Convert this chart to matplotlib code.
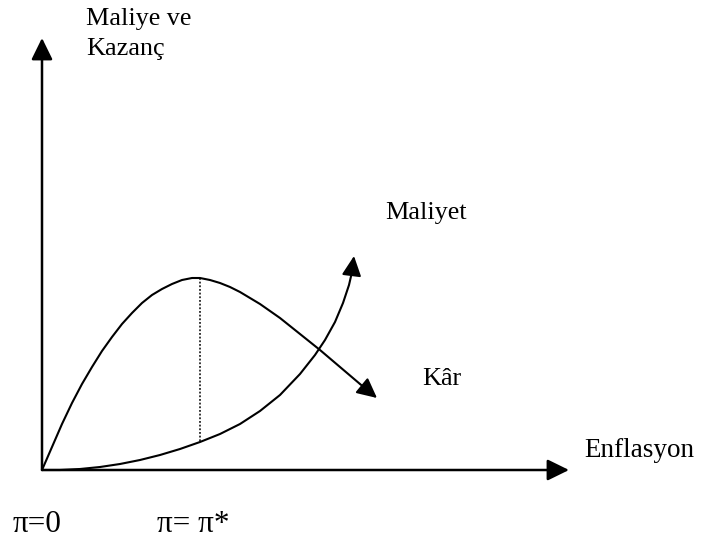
import matplotlib.pyplot as plt

# profit curve (Kâr): inflation vs value
kar_x = [0, 10, 20, 30, 40, 50, 60, 70, 80, 90, 100, 110, 120, 130, 140, 150, 158,
         168, 178, 188, 198, 208, 218, 228, 238, 248, 258, 268, 278, 298, 318, 335]
kar_y = [0, 23, 46, 67, 86, 103, 119, 133, 146, 157, 167, 175, 181, 186, 190, 192, 192,
         190, 187, 183, 178, 172, 166, 159, 152, 144, 136, 128, 120, 103, 86, 72]

# cost curve (Maliyet)
maliyet_x = [0, 18, 38, 58, 78, 98, 118, 138, 158, 178, 198, 218, 238, 258,
             273, 283, 293, 301, 307, 310, 312]
maliyet_y = [0, 0, 1, 3, 6, 10, 15, 21, 28, 36, 46, 59, 75, 96,
             115, 130, 148, 167, 185, 198, 214]

# optimum inflation
pi_star = 158
x_axis_len = 527
y_axis_len = 432

FONT = "Liberation Serif"


def arrow(ax, start, end, lw, scale):
    ax.annotate("", xy=end, xytext=start,
                arrowprops=dict(arrowstyle="-|>,head_length=0.55,head_width=0.27",
                                mutation_scale=scale, lw=lw, color="black",
                                shrinkA=0, shrinkB=0))


def curve(ax, xs, ys):
    ax.plot(xs[:-1], ys[:-1], color="black", lw=1.5, solid_capstyle="butt",
            solid_joinstyle="round")
    arrow(ax, (xs[-2], ys[-2]), (xs[-1], ys[-1]), 1.5, 22)


def main():
    fig = plt.figure(figsize=(7.01, 5.45), dpi=100)
    ax = fig.add_axes([0, 0, 1, 1])
    ax.set_xlim(-42, 659)
    ax.set_ylim(-75, 470)
    ax.axis("off")

    # axes
    arrow(ax, (0, 0), (0, y_axis_len), 1.8, 24)
    arrow(ax, (0, 0), (x_axis_len, 0), 1.8, 24)

    curve(ax, kar_x, kar_y)
    curve(ax, maliyet_x, maliyet_y)

    # dotted line from peak of profit down to cost curve
    i = kar_x.index(pi_star)
    j = maliyet_x.index(pi_star)
    ax.plot([pi_star, pi_star], [kar_y[i], maliyet_y[j]], color="black",
            lw=1.1, linestyle=(0, (1.2, 1.2)))

    fs = 18.8
    ax.text(44, 445, "Maliye ve", fontsize=fs, family=FONT, va="baseline")
    ax.text(44, 415, "Kazanç", fontsize=fs, family=FONT, va="baseline")
    ax.text(343, 251, "Maliyet", fontsize=fs, family=FONT, va="baseline")
    ax.text(380, 85, "Kâr", fontsize=fs, family=FONT, va="baseline")
    ax.text(542, 13, "Enflasyon", fontsize=19.5, family=FONT, va="baseline")
    ax.text(-29, -62, "π=0", fontsize=22.5, family=FONT, va="baseline")
    ax.text(115, -62, "π= π*", fontsize=22.5, family=FONT, va="baseline")

    fig.savefig("out.png", dpi=100)


if __name__ == "__main__":
    main()
